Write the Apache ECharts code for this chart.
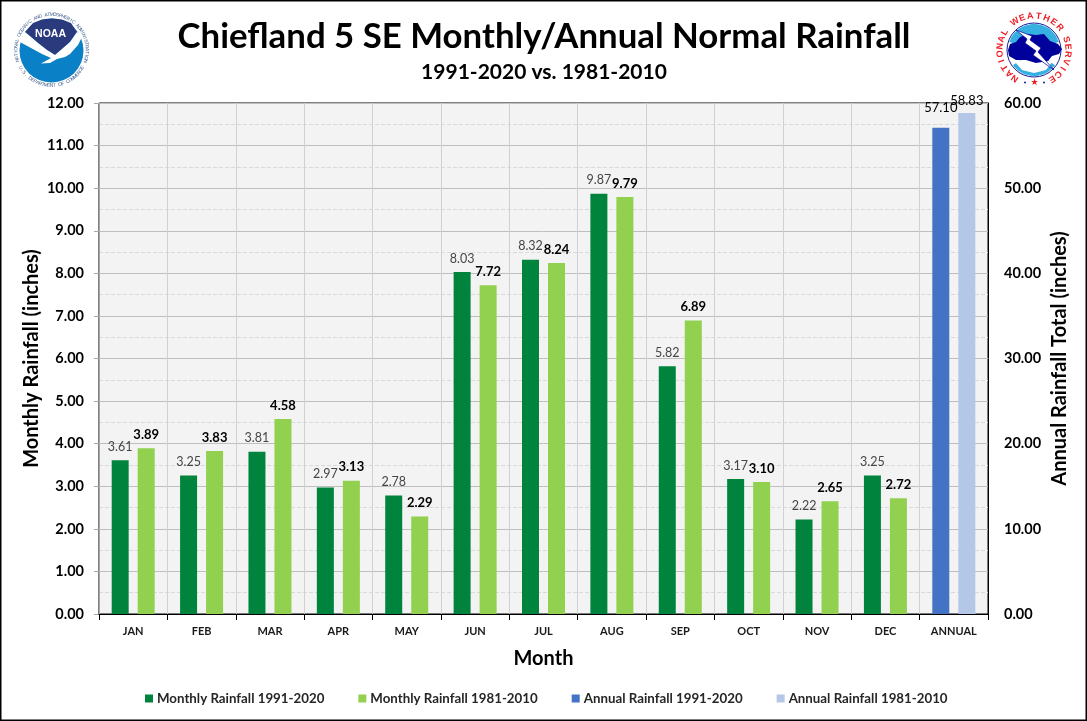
<!DOCTYPE html>
<html><head><meta charset="utf-8">
<style>html,body{margin:0;padding:0;background:#fff}#c{width:1087px;height:721px}</style>
<script src="https://cdn.jsdelivr.net/npm/echarts@6/dist/echarts.min.js"></script></head>
<body><div id="c"></div>
<script>
const months = ['JAN','FEB','MAR','APR','MAY','JUN','JUL','AUG','SEP','OCT','NOV','DEC','ANNUAL'];
const monthly1991 = [3.61,3.25,3.81,2.97,2.78,8.03,8.32,9.87,5.82,3.17,2.22,3.25,null];
const monthly1981 = [3.89,3.83,4.58,3.13,2.29,7.72,8.24,9.79,6.89,3.10,2.65,2.72,null];
const annual1991 = [null,null,null,null,null,null,null,null,null,null,null,null,57.10];
const annual1981 = [null,null,null,null,null,null,null,null,null,null,null,null,58.83];
const FONT = 'Lato';
const chart = echarts.init(document.getElementById('c'), null, {renderer:'canvas'});
const fmt = v => v.toFixed(2);
const lab = (color, weight, distance, size) => ({show:true, position:'top', distance, color, fontWeight:weight, fontSize:size, fontFamily:FONT,
  formatter:p=>fmt(p.value)});
function bar(name,data,color,idx,label){return {name,type:'bar',data,xAxisIndex:idx,yAxisIndex:idx,barWidth:17,barGap:'53%',
  itemStyle:{color},label,z:3};}
const arcText=(txt,cx,cy,r,a0,a1,color,size,weight,flip)=>{const n=txt.length;return txt.split('').map((ch,i)=>{
  const a=a0+(a1-a0)*i/(n-1);const rad=a*Math.PI/180;
  return {type:'text',x:cx+r*Math.sin(rad),y:cy-r*Math.cos(rad),rotation:-rad+(flip?Math.PI:0),
    style:{text:ch,fill:color,fontSize:size,fontWeight:weight,fontFamily:'Liberation Sans',align:'center',verticalAlign:'middle'},silent:true};});};
const noaa=[
 {type:'circle',shape:{cx:51.5,cy:50.5,r:32},style:{fill:'#0A80C6'}},
 {type:'polygon',shape:{points:[[25,32],[33,23],[42,19.5],[52,18.5],[62,19.5],[71,23],[77,32],[70,42],[62,49],[55,55],[47,50],[38,43],[31,37]]},style:{fill:'#2A3A7C'}},
 {type:'polygon',shape:{points:[[18,41],[25,32],[31,37],[38,43],[47,50],[55,55],[62,49],[70,42],[77,32],[83,35],[78,45],[70,54],[65,57],[57,59],[50,63],[41,63.5],[51,58],[42,54],[31,48]]},style:{fill:'#fff'}},
 {type:'text',x:50.5,y:34.5,style:{text:'NOAA',fill:'#fff',fontSize:10.5,fontWeight:'bold',fontFamily:'Liberation Sans',align:'center',verticalAlign:'middle'}},
 ...arcText('NATIONAL OCEANIC AND ATMOSPHERIC ADMINISTRATION',51.5,50,35.5,-107,108,'#3b5a8c',4.8,'normal'),
 ...arcText('U.S. DEPARTMENT OF COMMERCE',51.5,50,35.5,240,120,'#3b5a8c',4.8,'normal',true)
];
const nws=[
 {type:'circle',shape:{cx:1034,cy:50,r:27},style:{fill:'#fff',stroke:'#1a1a9a',lineWidth:1}},
 {type:'sector',shape:{cx:1034,cy:50,r0:0,r:26,startAngle:Math.PI*1.1,endAngle:Math.PI*1.9},style:{fill:'#35B0E0'}},
 {type:'sector',shape:{cx:1034,cy:50,r0:0,r:26,startAngle:Math.PI*0.2,endAngle:Math.PI*0.8},style:{fill:'#35B0E0'}},
 {type:'polygon',shape:{points:[[1015,62],[1025,59],[1036,62],[1046,60],[1052,62],[1046,70],[1034,73],[1022,70]]},style:{fill:'#fff'}},
 {type:'polygon',shape:{points:[[1008,50],[1010,44],[1016,42],[1020,37],[1028,34],[1036,35],[1044,34],[1050,41],[1058,44],[1062,49],[1059,54],[1052,56],[1048,61],[1036,63],[1026,60],[1016,60],[1009,56]]},style:{fill:'#00009A'}},
 {type:'polygon',shape:{points:[[1016,30],[1032,36],[1030,40],[1041,48],[1038,52],[1054,70],[1033,55],[1036,51],[1025,43],[1027,39]]},style:{fill:'#fff',stroke:'#00009A',lineWidth:0.7}},
 ...arcText('NATIONAL',1034,50,34,-146,-59,'#ee1c25',9,'bold'),
 ...arcText('WEATHER',1034,50,34,-34,49,'#ee1c25',9,'bold'),
 ...arcText('SERVICE',1034,50,34,72,148,'#ee1c25',9,'bold'),
 {type:'circle',shape:{cx:1025,cy:82.5,r:1},style:{fill:'#1a1a9a'}},
 {type:'circle',shape:{cx:1044,cy:82.5,r:1},style:{fill:'#1a1a9a'}},
 {type:'text',x:1034.5,y:83,style:{text:'★',fill:'#ee1c25',fontSize:9,fontFamily:'DejaVu Sans',align:'center',verticalAlign:'middle'}}
];
chart.setOption({
  animation:false,
  backgroundColor:'#fff',
  textStyle:{fontFamily:FONT},
  title:[
    {text:'Chiefland 5 SE Monthly/Annual Normal Rainfall',left:539,top:14,textAlign:'center',textStyle:{fontSize:34.8,fontWeight:'bold',color:'#000',fontFamily:FONT}},
    {text:'1991-2020 vs. 1981-2010',left:539,top:57,textAlign:'center',textStyle:{fontSize:21,fontWeight:'bold',color:'#000',fontFamily:FONT}}
  ],
  legend:{bottom:11,left:140,itemWidth:8,itemHeight:8,itemGap:34,icon:'rect',
    textStyle:{fontSize:13.3,fontWeight:'bold',color:'#262626',fontFamily:FONT,padding:[0,0,0,-1]},
    data:['Monthly Rainfall 1991-2020','Monthly Rainfall 1981-2010','Annual Rainfall 1991-2020','Annual Rainfall 1981-2010']},
  grid:{left:99,right:99,top:103,bottom:107,show:true,backgroundColor:'#f3f3f3',borderColor:'#000',borderWidth:1,containLabel:false},
  xAxis:[
    {type:'category',data:months,name:'Month',nameLocation:'middle',nameGap:35,
     nameTextStyle:{fontSize:20,fontWeight:'bold',color:'#000',fontFamily:FONT},
     axisLine:{lineStyle:{color:'#000',width:1}},axisTick:{show:true,alignWithLabel:false,length:6,lineStyle:{color:'#000'}},
     axisLabel:{color:'#1a1a1a',fontWeight:'bold',fontSize:11,fontFamily:FONT,margin:12,interval:0},
     splitLine:{show:true,interval:0,lineStyle:{color:'#d0d0d0',width:1}}},
    {type:'category',data:months,position:'top',
     axisLine:{show:true,lineStyle:{color:'#000',width:1}},axisTick:{show:false},axisLabel:{show:false},splitLine:{show:false},z:10}
  ],
  yAxis:[
    {type:'value',min:0,max:12,interval:1,position:'left',name:'Monthly Rainfall (inches)',nameLocation:'middle',nameGap:57,nameMoveOverlap:false,
     nameTextStyle:{fontSize:20,fontWeight:'bold',color:'#000',fontFamily:FONT},
     axisLine:{show:true,lineStyle:{color:'#a6a6a6'}},axisTick:{show:true,length:5,lineStyle:{color:'#a6a6a6'}},
     axisLabel:{formatter:fmt,color:'#000',fontWeight:'bold',fontSize:14.5,fontFamily:FONT,margin:15},
     minorTick:{show:false,splitNumber:2},
     splitLine:{show:true,lineStyle:{color:'#bfbfbf',width:1}},
     minorSplitLine:{show:true,lineStyle:{color:'#d9d9d9',type:'dashed',width:1}}},
    {type:'value',min:0,max:60,interval:10,position:'right',name:'Annual Rainfall Total (inches)',nameLocation:'middle',nameGap:62,nameRotate:90,nameMoveOverlap:false,
     nameTextStyle:{fontSize:20,fontWeight:'bold',color:'#000',fontFamily:FONT},
     axisLine:{show:true,lineStyle:{color:'#000'}},axisTick:{show:false},
     axisLabel:{formatter:fmt,color:'#000',fontWeight:'bold',fontSize:14.5,fontFamily:FONT,margin:16},
     splitLine:{show:false}}
  ],
  series:[
    bar('Monthly Rainfall 1991-2020',monthly1991,'#00843D',0,lab('#444','normal',7,12.5)),
    bar('Monthly Rainfall 1981-2010',monthly1981,'#92D050',0,lab('#000','bold',7,13)),
    bar('Annual Rainfall 1991-2020',annual1991,'#4472C4',1,lab('#000','normal',13,13)),
    bar('Annual Rainfall 1981-2010',annual1981,'#B4C7E7',1,lab('#000','normal',6,13))
  ],
  graphic:[
    {type:'rect',shape:{x:0.5,y:0.5,width:1086,height:720},style:{fill:'none',stroke:'#000',lineWidth:2},silent:true},
    ...noaa,...nws
  ]
});
</script></body></html>
